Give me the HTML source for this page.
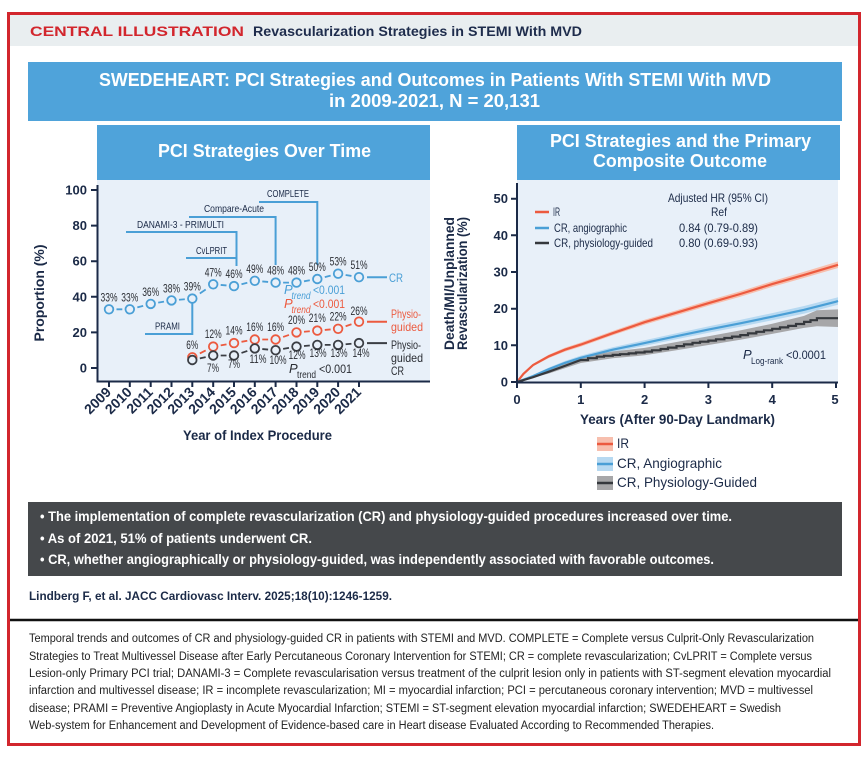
<!DOCTYPE html>
<html><head><meta charset="utf-8"><style>
html,body{margin:0;padding:0;background:#fff;}
svg{display:block;font-family:"Liberation Sans",sans-serif;}
.d{stroke-dasharray:0 36 28 36;fill:none;stroke-width:1.8;}
</style></head><body>
<svg width="868" height="757" viewBox="0 0 868 757" xmlns="http://www.w3.org/2000/svg">
<rect x="0" y="0" width="868" height="757" fill="#fff"/>
<!-- header -->
<rect x="10" y="15" width="848" height="31" fill="#e9eef0"/>
<rect x="8.5" y="13.5" width="851" height="731" fill="none" stroke="#d2262d" stroke-width="3"/>
<text x="30" y="36" font-size="14" font-weight="bold" fill="#d2262d" textLength="214" lengthAdjust="spacingAndGlyphs">CENTRAL ILLUSTRATION</text>
<text x="253" y="36" font-size="13.5" font-weight="bold" fill="#1e2c4c" textLength="329" lengthAdjust="spacingAndGlyphs">Revascularization Strategies in STEMI With MVD</text>

<!-- banner -->
<rect x="28" y="62" width="814" height="59" fill="#4fa3da"/>
<text x="99" y="86" font-size="18" font-weight="bold" fill="#fff" textLength="672" lengthAdjust="spacingAndGlyphs">SWEDEHEART: PCI Strategies and Outcomes in Patients With STEMI With MVD</text>
<text x="329" y="107" font-size="18" font-weight="bold" fill="#fff" textLength="211" lengthAdjust="spacingAndGlyphs">in 2009-2021, N = 20,131</text>

<rect x="97" y="125" width="333" height="55" fill="#4fa3da"/>
<text x="158" y="157" font-size="18" font-weight="bold" fill="#fff" textLength="213" lengthAdjust="spacingAndGlyphs">PCI Strategies Over Time</text>
<rect x="517" y="125" width="323" height="55" fill="#4fa3da"/>
<text x="550" y="147" font-size="18" font-weight="bold" fill="#fff" textLength="261" lengthAdjust="spacingAndGlyphs">PCI Strategies and the Primary</text>
<text x="593" y="167" font-size="18" font-weight="bold" fill="#fff" textLength="174" lengthAdjust="spacingAndGlyphs">Composite Outcome</text>

<!-- LEFT CHART -->
<rect x="97" y="180" width="333" height="201" fill="#e8f0f9"/>
<g stroke="#1b2a47" stroke-width="2" fill="none">
<path d="M97.5 185 V381.5 H430"/>
<path d="M91 368 H97 M91 332.4 H97 M91 296.8 H97 M91 261.2 H97 M91 225.6 H97 M91 190 H97"/>
<path d="M109 381 V387 M129.8 381 V387 M150.7 381 V387 M171.5 381 V387 M192.3 381 V387 M213.2 381 V387 M234 381 V387 M254.8 381 V387 M275.6 381 V387 M296.5 381 V387 M317.3 381 V387 M338.1 381 V387 M359 381 V387"/>
</g>
<g font-size="13" font-weight="bold" fill="#1b2a47" text-anchor="end">
<text x="87" y="372.5">0</text>
<text x="87" y="337">20</text>
<text x="87" y="301.3">40</text>
<text x="87" y="265.7">60</text>
<text x="87" y="230.1">80</text>
<text x="87" y="194.5">100</text>
</g>
<g font-size="14" font-weight="bold" fill="#1b2a47" text-anchor="end">
<text transform="translate(112,393) rotate(-45)">2009</text>
<text transform="translate(132.8,393) rotate(-45)">2010</text>
<text transform="translate(153.7,393) rotate(-45)">2011</text>
<text transform="translate(174.5,393) rotate(-45)">2012</text>
<text transform="translate(195.3,393) rotate(-45)">2013</text>
<text transform="translate(216.2,393) rotate(-45)">2014</text>
<text transform="translate(237,393) rotate(-45)">2015</text>
<text transform="translate(257.8,393) rotate(-45)">2016</text>
<text transform="translate(278.6,393) rotate(-45)">2017</text>
<text transform="translate(299.5,393) rotate(-45)">2018</text>
<text transform="translate(320.3,393) rotate(-45)">2019</text>
<text transform="translate(341.1,393) rotate(-45)">2020</text>
<text transform="translate(362,393) rotate(-45)">2021</text>
</g>
<text x="183" y="440" font-size="14" font-weight="bold" fill="#1b2a47" textLength="149" lengthAdjust="spacingAndGlyphs">Year of Index Procedure</text>
<text transform="translate(44,341.5) rotate(-90)" font-size="14" font-weight="bold" fill="#1b2a47" textLength="97" lengthAdjust="spacingAndGlyphs">Proportion (%)</text>

<!-- annotations -->
<g stroke="#4a9fd6" stroke-width="2" fill="none">
<path d="M259 202 H317.3 V265"/>
<path d="M189 217 H275.6 V265"/>
<path d="M126 232 H236.5 V266"/>
<path d="M186 258 H236.5"/>
<path d="M145 334 H192.3 V303"/>
</g>
<g font-size="10.5" fill="#1b2a47">
<text x="267" y="197" textLength="42" lengthAdjust="spacingAndGlyphs">COMPLETE</text>
<text x="204" y="212" textLength="60" lengthAdjust="spacingAndGlyphs">Compare-Acute</text>
<text x="137" y="228" textLength="87" lengthAdjust="spacingAndGlyphs">DANAMI-3 - PRIMULTI</text>
<text x="196" y="254" textLength="31" lengthAdjust="spacingAndGlyphs">CvLPRIT</text>
<text x="155" y="329.5" textLength="25" lengthAdjust="spacingAndGlyphs">PRAMI</text>
</g>

<!-- CR series -->
<g stroke="#4a9fd6" class="d">
<path pathLength="100" d="M109 309.3 L129.8 309.3"/>
<path pathLength="100" d="M129.8 309.3 L150.7 303.9"/>
<path pathLength="100" d="M150.7 303.9 L171.5 300.4"/>
<path pathLength="100" d="M171.5 300.4 L192.3 298.6"/>
<path pathLength="100" d="M192.3 298.6 L213.2 284.3"/>
<path pathLength="100" d="M213.2 284.3 L234 286.1"/>
<path pathLength="100" d="M234 286.1 L254.8 280.8"/>
<path pathLength="100" d="M254.8 280.8 L275.6 282.6"/>
<path pathLength="100" d="M275.6 282.6 L296.5 282.6"/>
<path pathLength="100" d="M296.5 282.6 L317.3 279"/>
<path pathLength="100" d="M317.3 279 L338.1 273.7"/>
<path pathLength="100" d="M338.1 273.7 L359 277.2"/>
</g>
<g stroke="#4a9fd6" stroke-width="1.8" fill="#e8f0f9">
<circle cx="109" cy="309.3" r="4.3"/><circle cx="129.8" cy="309.3" r="4.3"/><circle cx="150.7" cy="303.9" r="4.3"/>
<circle cx="171.5" cy="300.4" r="4.3"/><circle cx="192.3" cy="298.6" r="4.3"/><circle cx="213.2" cy="284.3" r="4.3"/>
<circle cx="234" cy="286.1" r="4.3"/><circle cx="254.8" cy="280.8" r="4.3"/><circle cx="275.6" cy="282.6" r="4.3"/>
<circle cx="296.5" cy="282.6" r="4.3"/><circle cx="317.3" cy="279" r="4.3"/><circle cx="338.1" cy="273.7" r="4.3"/>
<circle cx="359" cy="277.2" r="4.3"/>
</g>
<!-- red series -->
<g stroke="#ec5a3f" class="d">
<path pathLength="100" d="M192.3 357.3 L213.2 346.6"/>
<path pathLength="100" d="M213.2 346.6 L234 343.1"/>
<path pathLength="100" d="M234 343.1 L254.8 339.5"/>
<path pathLength="100" d="M254.8 339.5 L275.6 339.5"/>
<path pathLength="100" d="M275.6 339.5 L296.5 332.4"/>
<path pathLength="100" d="M296.5 332.4 L317.3 330.6"/>
<path pathLength="100" d="M317.3 330.6 L338.1 328.8"/>
<path pathLength="100" d="M338.1 328.8 L359 321.7"/>
</g>
<g stroke="#ec5a3f" stroke-width="1.8" fill="#e8f0f9">
<circle cx="192.3" cy="357.3" r="4.3"/><circle cx="213.2" cy="346.6" r="4.3"/><circle cx="234" cy="343.1" r="4.3"/>
<circle cx="254.8" cy="339.5" r="4.3"/><circle cx="275.6" cy="339.5" r="4.3"/><circle cx="296.5" cy="332.4" r="4.3"/>
<circle cx="317.3" cy="330.6" r="4.3"/><circle cx="338.1" cy="328.8" r="4.3"/><circle cx="359" cy="321.7" r="4.3"/>
</g>
<!-- dark series -->
<g stroke="#3b3e44" class="d">
<path pathLength="100" d="M192.3 360 L213.2 355.5"/>
<path pathLength="100" d="M213.2 355.5 L234 355.5"/>
<path pathLength="100" d="M234 355.5 L254.8 348.4"/>
<path pathLength="100" d="M254.8 348.4 L275.6 350.2"/>
<path pathLength="100" d="M275.6 350.2 L296.5 346.6"/>
<path pathLength="100" d="M296.5 346.6 L317.3 344.9"/>
<path pathLength="100" d="M317.3 344.9 L338.1 344.9"/>
<path pathLength="100" d="M338.1 344.9 L359 343.1"/>
</g>
<g stroke="#3b3e44" stroke-width="1.8" fill="#e8f0f9">
<circle cx="192.3" cy="360" r="4.3"/><circle cx="213.2" cy="355.5" r="4.3"/><circle cx="234" cy="355.5" r="4.3"/>
<circle cx="254.8" cy="348.4" r="4.3"/><circle cx="275.6" cy="350.2" r="4.3"/><circle cx="296.5" cy="346.6" r="4.3"/>
<circle cx="317.3" cy="344.9" r="4.3"/><circle cx="338.1" cy="344.9" r="4.3"/><circle cx="359" cy="343.1" r="4.3"/>
</g>

<!-- data labels -->
<g font-size="11.5" fill="#2a2d33">
<text x="100.5" y="301.3" textLength="17" lengthAdjust="spacingAndGlyphs">33%</text>
<text x="121.3" y="301.3" textLength="17" lengthAdjust="spacingAndGlyphs">33%</text>
<text x="142.2" y="295.9" textLength="17" lengthAdjust="spacingAndGlyphs">36%</text>
<text x="163" y="292.4" textLength="17" lengthAdjust="spacingAndGlyphs">38%</text>
<text x="183.8" y="290.6" textLength="17" lengthAdjust="spacingAndGlyphs">39%</text>
<text x="204.7" y="276.3" textLength="17" lengthAdjust="spacingAndGlyphs">47%</text>
<text x="225.5" y="278.1" textLength="17" lengthAdjust="spacingAndGlyphs">46%</text>
<text x="246.3" y="272.8" textLength="17" lengthAdjust="spacingAndGlyphs">49%</text>
<text x="267.1" y="274.6" textLength="17" lengthAdjust="spacingAndGlyphs">48%</text>
<text x="288" y="274.6" textLength="17" lengthAdjust="spacingAndGlyphs">48%</text>
<text x="308.8" y="271" textLength="17" lengthAdjust="spacingAndGlyphs">50%</text>
<text x="329.6" y="265.7" textLength="17" lengthAdjust="spacingAndGlyphs">53%</text>
<text x="350.5" y="269.2" textLength="17" lengthAdjust="spacingAndGlyphs">51%</text>

<text x="186.3" y="348.8" textLength="12" lengthAdjust="spacingAndGlyphs">6%</text>
<text x="204.7" y="338" textLength="17" lengthAdjust="spacingAndGlyphs">12%</text>
<text x="225.5" y="334.6" textLength="17" lengthAdjust="spacingAndGlyphs">14%</text>
<text x="246.3" y="331" textLength="17" lengthAdjust="spacingAndGlyphs">16%</text>
<text x="267.1" y="331" textLength="17" lengthAdjust="spacingAndGlyphs">16%</text>
<text x="288" y="324" textLength="17" lengthAdjust="spacingAndGlyphs">20%</text>
<text x="308.8" y="322" textLength="17" lengthAdjust="spacingAndGlyphs">21%</text>
<text x="329.6" y="320.3" textLength="17" lengthAdjust="spacingAndGlyphs">22%</text>
<text x="350.5" y="315" textLength="17" lengthAdjust="spacingAndGlyphs">26%</text>

<text x="207" y="372" textLength="12" lengthAdjust="spacingAndGlyphs">7%</text>
<text x="228" y="368" textLength="12" lengthAdjust="spacingAndGlyphs">7%</text>
<text x="249.5" y="363" textLength="17" lengthAdjust="spacingAndGlyphs">11%</text>
<text x="269.5" y="364" textLength="17" lengthAdjust="spacingAndGlyphs">10%</text>
<text x="288.5" y="359" textLength="17" lengthAdjust="spacingAndGlyphs">12%</text>
<text x="309.5" y="357" textLength="17" lengthAdjust="spacingAndGlyphs">13%</text>
<text x="330.5" y="357" textLength="17" lengthAdjust="spacingAndGlyphs">13%</text>
<text x="352.5" y="357" textLength="17" lengthAdjust="spacingAndGlyphs">14%</text>
</g>

<!-- P trend -->
<g fill="#4a9fd6">
<text x="284" y="294" font-size="13" font-style="italic">P</text>
<text x="291.5" y="299" font-size="10" font-style="italic" textLength="19" lengthAdjust="spacingAndGlyphs">trend</text>
<text x="313" y="294" font-size="12" textLength="32" lengthAdjust="spacingAndGlyphs">&lt;0.001</text>
</g>
<g fill="#ec5a3f">
<text x="284" y="308" font-size="13" font-style="italic">P</text>
<text x="291.5" y="313" font-size="10" font-style="italic" textLength="19" lengthAdjust="spacingAndGlyphs">trend</text>
<text x="313" y="308" font-size="12" textLength="32" lengthAdjust="spacingAndGlyphs">&lt;0.001</text>
</g>
<g fill="#2a2d33">
<text x="289" y="373" font-size="13" font-style="italic">P</text>
<text x="297" y="378" font-size="10" textLength="19" lengthAdjust="spacingAndGlyphs">trend</text>
<text x="319" y="373" font-size="12" textLength="33" lengthAdjust="spacingAndGlyphs">&lt;0.001</text>
</g>

<!-- series end labels -->
<path d="M367 277.2 H387" stroke="#4a9fd6" stroke-width="2"/>
<text x="389" y="282" font-size="12" fill="#4a9fd6" textLength="14" lengthAdjust="spacingAndGlyphs">CR</text>
<path d="M367 321.7 H387" stroke="#ec5a3f" stroke-width="2"/>
<text x="391" y="318" font-size="12" fill="#ec5a3f" textLength="30" lengthAdjust="spacingAndGlyphs">Physio-</text>
<text x="391" y="331" font-size="12" fill="#ec5a3f" textLength="32" lengthAdjust="spacingAndGlyphs">guided</text>
<path d="M367 343.1 H387" stroke="#3b3e44" stroke-width="2"/>
<text x="391" y="349" font-size="12" fill="#2a2d33" textLength="30" lengthAdjust="spacingAndGlyphs">Physio-</text>
<text x="391" y="362" font-size="12" fill="#2a2d33" textLength="32" lengthAdjust="spacingAndGlyphs">guided</text>
<text x="391" y="375" font-size="12" fill="#2a2d33" textLength="13" lengthAdjust="spacingAndGlyphs">CR</text>

<!-- RIGHT CHART -->
<rect x="517" y="180" width="321" height="202" fill="#e8f0f9"/>
<!-- bands -->
<polygon fill="#f7bfae" points="517,382 523.4,372.9 533,363.8 548.9,354.6 564.9,347.8 580.8,342.5 612.7,331 644.6,319.8 676.5,310.2 708.4,300.5 740.3,291.2 772.2,281.2 804.1,271.8 838,261.5 838,268 804.1,277.9 772.2,286.9 740.3,296.7 708.4,305.8 676.5,315.2 644.6,324.6 612.7,335.3 580.8,346.6 564.9,351.6 548.9,358 533,366.4 523.4,374.9"/>
<polygon fill="#b7d9f1" points="517,382 533,374.8 548.9,367.5 564.9,361 580.8,355.6 612.7,347.2 644.6,340.3 676.5,333.2 708.4,326.4 740.3,319.9 772.2,313.1 804.1,306 838,297.3 838,304.7 804.1,313.6 772.2,320.3 740.3,326.7 708.4,332.8 676.5,339.2 644.6,345.9 612.7,352.2 580.8,360 564.9,364.8 548.9,370.9 533,377.4"/>
<polygon fill="#a7a7a9" points="517,382 548.9,369.9 580.8,357 612.7,351.5 644.6,347.9 676.5,342 708.4,336.2 740.3,330.4 772.2,323.7 804.1,315.9 816.9,310.2 838,309.4 838,327 816.9,326.2 804.1,327.9 772.2,333.9 740.3,339.8 708.4,345 676.5,350.2 644.6,355.3 612.7,358.3 580.8,363 548.9,373.5"/>
<!-- lines -->
<polyline fill="none" stroke="#ec5a3f" stroke-width="2.2" points="517,382 523.4,373.9 533,365.1 548.9,356.3 564.9,349.7 580.8,344.6 612.7,333.2 644.6,322.2 676.5,312.7 708.4,303.2 740.3,294 772.2,284.1 804.1,274.9 836,265.4 838,264.8"/>
<polyline fill="none" stroke="#4a9fd6" stroke-width="2.2" points="517,382 533,376.1 548.9,369.2 564.9,362.9 580.8,357.8 612.7,349.7 644.6,343.1 676.5,336.2 708.4,329.6 740.3,323.3 772.2,316.7 804.1,309.8 836,301.7 838,301"/>
<path fill="none" stroke="#35383d" stroke-width="2.2" d="M517 382 L533 377.2 L548.9 371.7 L564.9 365.9 L580.8 360 H588 V358.2 H596.8 V356.7 H604 V355.8 H612.7 V354.9 H620 V354.2 H628.7 V353.4 H636 V352.5 H644.6 V351.6 H652 V350.3 H660.6 V349 H668 V347.6 H676.5 V346.1 H684 V344.4 H692.5 V342.8 H700 V341.7 H708.4 V340.6 H716 V339.3 H724.4 V338 H732 V336.6 H740.3 V335.1 H748 V333.4 H756.3 V331.8 H764 V330.3 H772.2 V328.8 H780 V327.4 H788.2 V325.9 H796 V324 H804.1 V321.9 H810.5 V320.2 H816.9 V318.2 H838"/>
<!-- axes -->
<g stroke="#1b2a47" stroke-width="2" fill="none">
<path d="M517 183 V382.5 H838"/>
<path d="M511 382 H517 M511 345.3 H517 M511 308.7 H517 M511 272 H517 M511 235.3 H517 M511 198.7 H517"/>
<path d="M517 382 V388 M580.8 382 V388 M644.6 382 V388 M708.4 382 V388 M772.2 382 V388 M836 382 V388"/>
</g>
<g font-size="13" font-weight="bold" fill="#1b2a47" text-anchor="end">
<text x="508" y="386.5">0</text>
<text x="508" y="349.8">10</text>
<text x="508" y="313.2">20</text>
<text x="508" y="276.5">30</text>
<text x="508" y="239.8">40</text>
<text x="508" y="203.2">50</text>
</g>
<g font-size="13" font-weight="bold" fill="#1b2a47" text-anchor="middle">
<text x="517" y="404">0</text>
<text x="580.8" y="404">1</text>
<text x="644.6" y="404">2</text>
<text x="708.4" y="404">3</text>
<text x="772.2" y="404">4</text>
<text x="835" y="404">5</text>
</g>
<text x="580" y="424" font-size="14" font-weight="bold" fill="#1b2a47" textLength="195" lengthAdjust="spacingAndGlyphs">Years (After 90-Day Landmark)</text>
<text transform="translate(454,350) rotate(-90)" font-size="14" font-weight="bold" fill="#1b2a47" textLength="133" lengthAdjust="spacingAndGlyphs">Death/MI/Unplanned</text>
<text transform="translate(467,350) rotate(-90)" font-size="14" font-weight="bold" fill="#1b2a47" textLength="133" lengthAdjust="spacingAndGlyphs">Revascularization (%)</text>

<!-- inner legend -->
<g font-size="12" fill="#1b2a47">
<text x="668" y="202" textLength="100" lengthAdjust="spacingAndGlyphs">Adjusted HR (95% CI)</text>
<text x="553" y="216" textLength="7" lengthAdjust="spacingAndGlyphs">IR</text>
<text x="711" y="216" textLength="16" lengthAdjust="spacingAndGlyphs">Ref</text>
<text x="554" y="232" textLength="73" lengthAdjust="spacingAndGlyphs">CR, angiographic</text>
<text x="679" y="232" textLength="79" lengthAdjust="spacingAndGlyphs">0.84 (0.79-0.89)</text>
<text x="554" y="247" textLength="99" lengthAdjust="spacingAndGlyphs">CR, physiology-guided</text>
<text x="679" y="247" textLength="79" lengthAdjust="spacingAndGlyphs">0.80 (0.69-0.93)</text>
</g>
<path d="M535 212 H549" stroke="#ec5a3f" stroke-width="2.5"/>
<path d="M535 228 H549" stroke="#4a9fd6" stroke-width="2.5"/>
<path d="M535 243 H549" stroke="#35383d" stroke-width="2.5"/>
<g fill="#1b2a47">
<text x="743" y="359" font-size="13" font-style="italic">P</text>
<text x="751" y="364" font-size="9" textLength="32" lengthAdjust="spacingAndGlyphs">Log-rank</text>
<text x="786" y="359" font-size="12" textLength="40" lengthAdjust="spacingAndGlyphs">&lt;0.0001</text>
</g>

<!-- bottom legend -->
<rect x="597" y="437" width="16" height="14" fill="#f7bfae"/>
<path d="M597 444 H613" stroke="#ec5a3f" stroke-width="2.5"/>
<rect x="597" y="457" width="16" height="14" fill="#b7d9f1"/>
<path d="M597 464 H613" stroke="#4a9fd6" stroke-width="2.5"/>
<rect x="597" y="476" width="16" height="14" fill="#a7a7a9"/>
<path d="M597 483 H613" stroke="#35383d" stroke-width="2.5"/>
<g font-size="14" fill="#1b2a47">
<text x="617" y="448" textLength="12" lengthAdjust="spacingAndGlyphs">IR</text>
<text x="617" y="468" textLength="105" lengthAdjust="spacingAndGlyphs">CR, Angiographic</text>
<text x="617" y="487" textLength="140" lengthAdjust="spacingAndGlyphs">CR, Physiology-Guided</text>
</g>

<!-- bullet box -->
<rect x="28" y="502" width="814" height="74" fill="#45484b"/>
<g font-size="13.5" font-weight="bold" fill="#fff">
<text x="40" y="521" textLength="692" lengthAdjust="spacingAndGlyphs">• The implementation of complete revascularization (CR) and physiology-guided procedures increased over time.</text>
<text x="40" y="543" textLength="272" lengthAdjust="spacingAndGlyphs">• As of 2021, 51% of patients underwent CR.</text>
<text x="40" y="564" textLength="674" lengthAdjust="spacingAndGlyphs">• CR, whether angiographically or physiology-guided, was independently associated with favorable outcomes.</text>
</g>
<text x="29" y="600" font-size="12" font-weight="bold" fill="#1b2a47" textLength="363" lengthAdjust="spacingAndGlyphs">Lindberg F, et al. JACC Cardiovasc Interv. 2025;18(10):1246-1259.</text>

<!-- footer -->
<path d="M10 620 H858" stroke="#111" stroke-width="2.5"/>
<g font-size="11.5" fill="#222">
<text x="29" y="642" textLength="785" lengthAdjust="spacingAndGlyphs">Temporal trends and outcomes of CR and physiology-guided CR in patients with STEMI and MVD. COMPLETE = Complete versus Culprit-Only Revascularization</text>
<text x="29" y="660" textLength="783" lengthAdjust="spacingAndGlyphs">Strategies to Treat Multivessel Disease after Early Percutaneous Coronary Intervention for STEMI; CR = complete revascularization; CvLPRIT = Complete versus</text>
<text x="29" y="677" textLength="802" lengthAdjust="spacingAndGlyphs">Lesion-only Primary PCI trial; DANAMI-3 = Complete revascularisation versus treatment of the culprit lesion only in patients with ST-segment elevation myocardial</text>
<text x="29" y="694" textLength="784" lengthAdjust="spacingAndGlyphs">infarction and multivessel disease; IR = incomplete revascularization; MI = myocardial infarction; PCI = percutaneous coronary intervention; MVD = multivessel</text>
<text x="29" y="712" textLength="752" lengthAdjust="spacingAndGlyphs">disease; PRAMI = Preventive Angioplasty in Acute Myocardial Infarction; STEMI = ST-segment elevation myocardial infarction; SWEDEHEART = Swedish</text>
<text x="29" y="729" textLength="685" lengthAdjust="spacingAndGlyphs">Web-system for Enhancement and Development of Evidence-based care in Heart disease Evaluated According to Recommended Therapies.</text>
</g>
</svg>
</body></html>
